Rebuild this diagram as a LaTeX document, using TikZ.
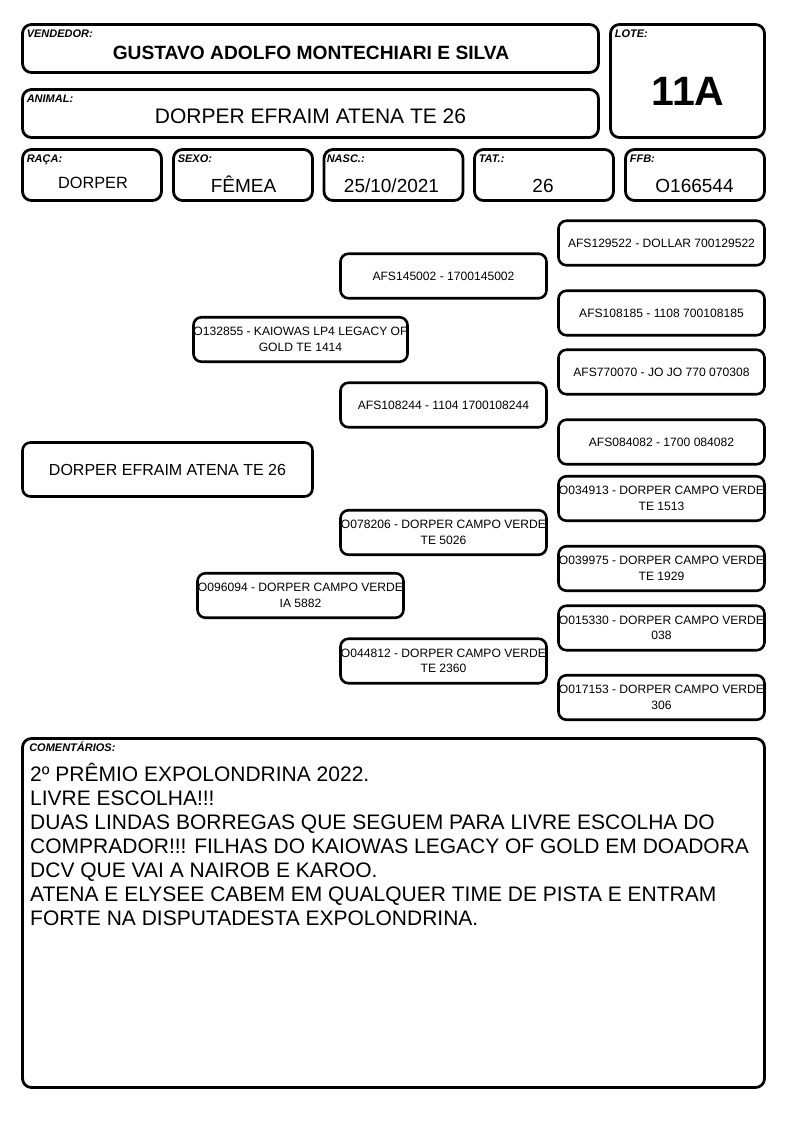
\documentclass[tikz,border=0pt]{standalone}
\usepackage{fontspec}
\setmainfont{Liberation Sans}
\usetikzlibrary{positioning}
\tikzset{
 fieldbox/.style={
 rectangle,
 draw=black,
 line width=2.8pt,
 rounded corners=9pt,
 inner sep=0pt
 },
 pedbox/.style={
 rectangle,
 draw=black,
 line width=2.6pt,
 rounded corners=8pt,
 inner sep=0pt,
 minimum width=206pt,
 minimum height=44.5pt,
 align=center,
 font=\fontsize{12.1}{15.5}\selectfont
 },
 fieldlabel/.style={anchor=base west, inner sep=0pt, font=\bfseries\itshape\fontsize{11}{12}\selectfont},
 fieldvalue/.style={anchor=base, inner sep=0pt, font=\fontsize{19}{22}\selectfont}
}

\begin{document}
\begin{tikzpicture}[x=1pt, y=-1pt]
	\useasboundingbox (0,0) rectangle (794,1123);

	% header fields
	\node[fieldbox, minimum width=576pt, minimum height=48pt] (vend) at (310.5,48.5) {};
	\node[fieldbox, minimum width=154pt, minimum height=113pt] (lote) at (687.5,81) {};
	\node[fieldbox, minimum width=576pt, minimum height=48pt] (animal) at (310.5,113.5) {};
	\node[fieldbox, minimum width=139pt, minimum height=51pt] (raca) at (92,175) {};
	\node[fieldbox, minimum width=139pt, minimum height=51pt] (sexo) at (243,175) {};
	\node[fieldbox, minimum width=139pt, minimum height=51pt] (nasc) at (393.5,175) {};
	\node[fieldbox, minimum width=139pt, minimum height=51pt] (tat) at (544,175) {};
	\node[fieldbox, minimum width=139pt, minimum height=51pt] (ffb) at (695,175) {};

	\node[fieldlabel] (vendlbl) at ([xshift=5.5pt, yshift=-14.5pt]vend.north west) {VENDEDOR:};
	\node[fieldlabel] (lotelbl) at ([xshift=5.5pt, yshift=-14.5pt]lote.north west) {LOTE:};
	\node[fieldlabel] (animallbl) at ([xshift=5.5pt, yshift=-14.5pt]animal.north west) {ANIMAL:};
	\node[fieldlabel] (racalbl) at ([xshift=5.5pt, yshift=-14.5pt]raca.north west) {RAÇA:};
	\node[fieldlabel] (sexolbl) at ([xshift=5.5pt, yshift=-14.5pt]sexo.north west) {SEXO:};
	\node[fieldlabel] (nasclbl) at ([xshift=4pt, yshift=-14.5pt]nasc.north west) {NASC.:};
	\node[fieldlabel] (tatlbl) at ([xshift=5.5pt, yshift=-14.5pt]tat.north west) {TAT.:};
	\node[fieldlabel] (ffblbl) at ([xshift=5.5pt, yshift=-14.5pt]ffb.north west) {FFB:};

	\node[fieldvalue, font=\bfseries\fontsize{19.2}{22}\selectfont] (vendval) at (311,60) {GUSTAVO ADOLFO MONTECHIARI E SILVA};
	\node[fieldvalue, font=\bfseries\fontsize{41}{44}\selectfont] (loteval) at (688,106) {11A};
	\node[fieldvalue, font=\fontsize{21}{24}\selectfont] (animalval) at (310.5,123.3) {DORPER EFRAIM ATENA TE 26};
	\node[fieldvalue, font=\fontsize{16.3}{19}\selectfont] (racaval) at (93,188.3) {DORPER};
	\node[fieldvalue] (sexoval) at (243.5,192.3) {FÊMEA};
	\node[fieldvalue] (nascval) at (391.5,192.3) {25/10/2021};
	\node[fieldvalue] (tatval) at (543,192.3) {26};
	\node[fieldvalue] (ffbval) at (694.5,192.3) {O166544};

	% pedigree
	\node[pedbox, minimum width=290pt, minimum height=54pt, font=\fontsize{16}{19}\selectfont] (self) at (167.5,469.5) {DORPER EFRAIM ATENA TE 26};

	\node[pedbox] (sire) at (300.5,339.5) {O132855 - KAIOWAS LP4 LEGACY OF\\GOLD TE 1414};
	\node[pedbox] (dam) at (300.5,595.5) {O096094 - DORPER CAMPO VERDE\\IA 5882};

	\node[pedbox] (ss) at (443.5,276) {AFS145002 - 1700145002};
	\node[pedbox] (sd) at (443.5,405) {AFS108244 - 1104 1700108244};
	\node[pedbox] (ds) at (443.5,532.5) {O078206 - DORPER CAMPO VERDE\\TE 5026};
	\node[pedbox] (dd) at (443.5,661) {O044812 - DORPER CAMPO VERDE\\TE 2360};

	\node[pedbox] (sss) at (661.5,243) {AFS129522 - DOLLAR 700129522};
	\node[pedbox] (ssd) at (661.5,313) {AFS108185 - 1108 700108185};
	\node[pedbox] (sds) at (661.5,372) {AFS770070 - JO JO 770 070308};
	\node[pedbox] (sdd) at (661.5,442) {AFS084082 - 1700 084082};
	\node[pedbox] (dss) at (661.5,498.5) {O034913 - DORPER CAMPO VERDE\\TE 1513};
	\node[pedbox] (dsd) at (661.5,568.5) {O039975 - DORPER CAMPO VERDE\\TE 1929};
	\node[pedbox] (dds) at (661.5,628) {O015330 - DORPER CAMPO VERDE\\038};
	\node[pedbox] (ddd) at (661.5,697.5) {O017153 - DORPER CAMPO VERDE\\306};

	% comments
	\node[fieldbox, minimum width=742pt, minimum height=349pt] (coment) at (393.5,913) {};
	\node[fieldlabel] (comentlbl) at ([xshift=8pt, yshift=-14.5pt]coment.north west) {COMENTÁRIOS:};
	\node[anchor=north west, inner sep=0pt, align=left, font=\fontsize{21}{24}\selectfont] (comenttxt) at (30,763) {2º PRÊMIO EXPOLONDRINA 2022.\\LIVRE ESCOLHA!!!\\DUAS LINDAS BORREGAS QUE SEGUEM PARA LIVRE ESCOLHA DO\\COMPRADOR!!! FILHAS DO KAIOWAS LEGACY OF GOLD EM DOADORA\\DCV QUE VAI A NAIROB E KAROO.\\ATENA E ELYSEE CABEM EM QUALQUER TIME DE PISTA E ENTRAM\\FORTE NA DISPUTADESTA EXPOLONDRINA.};
\end{tikzpicture}
\end{document}
